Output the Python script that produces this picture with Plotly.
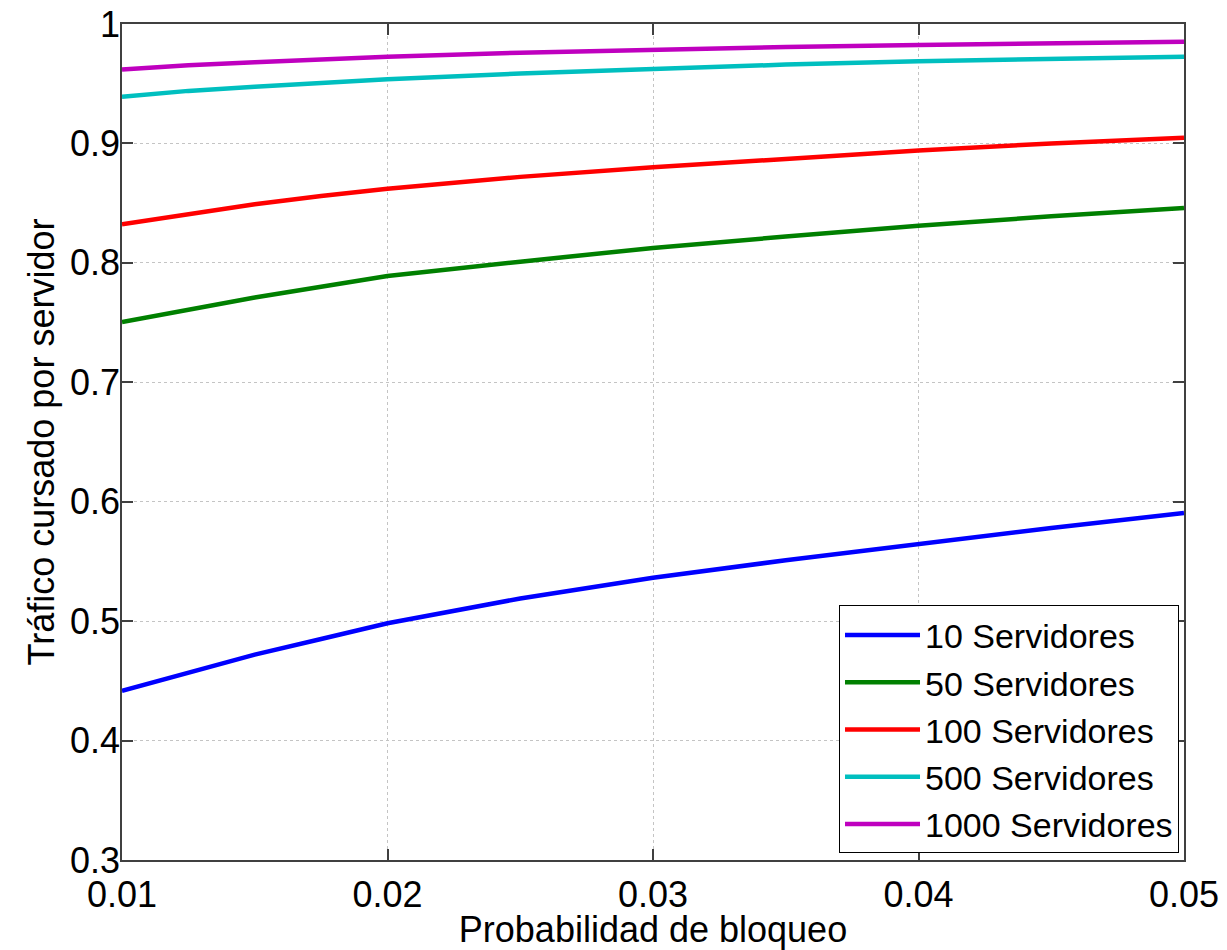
import plotly.graph_objects as go

# Probabilidad de bloqueo (x)
prob_bloqueo = [0.01, 0.0125, 0.015, 0.0175, 0.02, 0.025, 0.03, 0.035, 0.04, 0.045, 0.05]

# Tráfico cursado por servidor (y), one list per series
serv_10 = [0.4416, 0.457, 0.472, 0.485, 0.4982, 0.519, 0.5363, 0.551, 0.5645, 0.578, 0.5905]
serv_50 = [0.7504, 0.761, 0.771, 0.780, 0.789, 0.801, 0.8125, 0.822, 0.831, 0.839, 0.846]
serv_100 = [0.8322, 0.841, 0.849, 0.856, 0.8621, 0.872, 0.880, 0.887, 0.894, 0.900, 0.9048]
serv_500 = [0.939, 0.944, 0.9475, 0.951, 0.9537, 0.9585, 0.9626, 0.966, 0.9688, 0.971, 0.9726]
serv_1000 = [0.962, 0.9655, 0.968, 0.9705, 0.9726, 0.976, 0.9788, 0.9807, 0.9824, 0.9839, 0.9852]

series_names = ["10 Servidores", "50 Servidores", "100 Servidores", "500 Servidores", "1000 Servidores"]
series_vals = [serv_10, serv_50, serv_100, serv_500, serv_1000]
series_colors = ["#0000FF", "#008000", "#FF0000", "#00BFBF", "#BF00BF"]

x_ticks = [0.01, 0.02, 0.03, 0.04, 0.05]
x_ticklabels = ["0.01", "0.02", "0.03", "0.04", "0.05"]
y_ticks = [0.3, 0.4, 0.5, 0.6, 0.7, 0.8, 0.9, 1.0]
y_ticklabels = ["0.3", "0.4", "0.5", "0.6", "0.7", "0.8", "0.9", "1"]

FONT = "Arial, Liberation Sans, Helvetica, sans-serif"

fig = go.Figure()
for name, vals, col in zip(series_names, series_vals, series_colors):
    fig.add_trace(go.Scatter(x=prob_bloqueo, y=vals, mode="lines", name=name,
                             line=dict(color=col, width=4.5)))

axis_common = dict(
    showline=True, linecolor="#404040", linewidth=1.5, mirror="ticks",
    ticks="inside", ticklen=11, tickcolor="#404040", tickwidth=1.5,
    showgrid=True, gridcolor="#c4c4c4", gridwidth=1, griddash="dot",
    zeroline=False, automargin=False, ticklabeloverflow="allow",
    tickfont=dict(family=FONT, size=36, color="black"),
)

fig.update_layout(
    width=1219, height=942,
    margin=dict(l=114, r=43, t=16, b=90),
    paper_bgcolor="white", plot_bgcolor="white",
    showlegend=True,
    legend=dict(x=0.9953, y=0.0078, xanchor="right", yanchor="bottom",
                bgcolor="white", bordercolor="black", borderwidth=1,
                font=dict(family=FONT, size=34, color="black"),
                itemwidth=75, tracegroupgap=0),
    xaxis=dict(range=[0.01, 0.05], tickvals=x_ticks, ticktext=x_ticklabels,
               ticklabelstandoff=2,
               title=dict(text="Probabilidad de bloqueo",
                          font=dict(family=FONT, size=36, color="black"), standoff=0),
               **axis_common),
    yaxis=dict(range=[0.3, 1.0], tickvals=y_ticks, ticktext=y_ticklabels,
               ticklabelstandoff=-7,
               title=dict(text="Tráfico cursado por servidor",
                          font=dict(family=FONT, size=36, color="black"), standoff=4),
               **axis_common),
)

fig.write_html("out.html")
